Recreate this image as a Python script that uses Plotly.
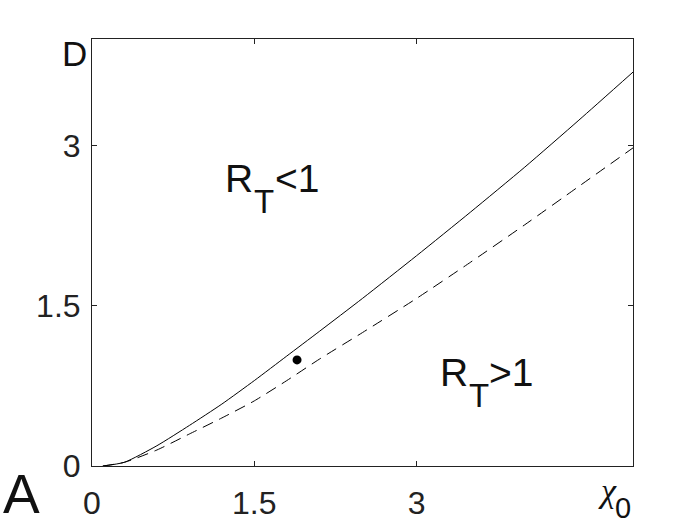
import plotly.graph_objects as go

# values
x_solid = [0.1, 0.3, 0.6, 0.9, 1.2, 1.5, 1.8, 2.1, 2.5, 3.0, 3.5, 4.0, 4.5, 5.0]
d_solid = [0.0, 0.035, 0.19, 0.38, 0.58, 0.80, 1.03, 1.26, 1.57, 1.97, 2.38, 2.80, 3.24, 3.69]

x_dashed = [0.1, 0.3, 0.6, 0.9, 1.2, 1.5, 1.8, 2.1, 2.5, 3.0, 3.5, 4.0, 4.5, 5.0]
d_dashed = [0.0, 0.035, 0.15, 0.30, 0.45, 0.61, 0.80, 1.00, 1.25, 1.57, 1.91, 2.26, 2.62, 2.98]

point_x = [1.895]
point_d = [0.994]

x_ticks = [0, 1.5, 3]
y_ticks = [0, 1.5, 3]
x_tick_labels = ['0', '1.5', '3']
y_tick_labels = ['0', '1.5', '3']

FONT = 'Liberation Sans, Arial, sans-serif'
SERIF = 'Liberation Serif, Times New Roman, serif'


def label(text, x, y, size, family=FONT, ref='data', italic=False):
    # one piece of text placed by its centre
    return dict(
        text=f'<i>{text}</i>' if italic else text,
        xref='paper' if ref == 'paper' else 'x',
        yref='paper' if ref == 'paper' else 'y',
        x=x, y=y, xanchor='center', yanchor='middle', showarrow=False,
        font=dict(family=family, size=size, color='#111'),
    )


fig = go.Figure()

fig.add_trace(
    go.Scatter(
        x=x_solid, y=d_solid, mode='lines',
        line=dict(color='black', width=1, shape='spline', smoothing=0.6),
        showlegend=False,
    )
)
fig.add_trace(
    go.Scatter(
        x=x_dashed, y=d_dashed, mode='lines',
        line=dict(color='black', width=1, dash='11px,7px', shape='spline', smoothing=0.6),
        showlegend=False,
    )
)
fig.add_trace(
    go.Scatter(
        x=point_x, y=point_d, mode='markers',
        marker=dict(color='black', size=9),
        showlegend=False,
    )
)

axis_style = dict(
    showline=True, linecolor='#222', linewidth=1, mirror='ticks',
    ticks='inside', ticklen=5, tickcolor='#222',
    showgrid=False, zeroline=False, automargin=False,
    tickfont=dict(family=FONT, size=32, color='#222'),
)

fig.update_layout(
    width=700, height=525,
    margin=dict(l=92, r=67, t=39, b=59),
    paper_bgcolor='white', plot_bgcolor='white',
    xaxis=dict(range=[0, 5], tickvals=x_ticks, ticktext=x_tick_labels,
               ticklabelstandoff=9, **axis_style),
    yaxis=dict(range=[0, 4], tickvals=y_ticks, ticktext=y_tick_labels,
               ticklabelstandoff=4, **axis_style),
    annotations=[
        label('D', -0.0323, 0.966, 35, ref='paper'),
        label('A', -0.131, -0.0656, 55, ref='paper'),
        label('χ', 0.953, -0.0585, 34, family=SERIF, ref='paper', italic=True),
        label('0', 0.9806, -0.0972, 29, ref='paper'),
        # R_T<1
        label('R', 1.363, 2.689, 39),
        label('T', 1.594, 2.482, 33),
        label('<1', 1.895, 2.689, 39),
        # R_T>1
        label('R', 3.350, 0.876, 39),
        label('T', 3.581, 0.665, 33),
        label('>1', 3.872, 0.876, 39),
    ],
)

fig.write_html("out.html", config={'displayModeBar': False},
               post_script="document.body.style.margin='0';")
